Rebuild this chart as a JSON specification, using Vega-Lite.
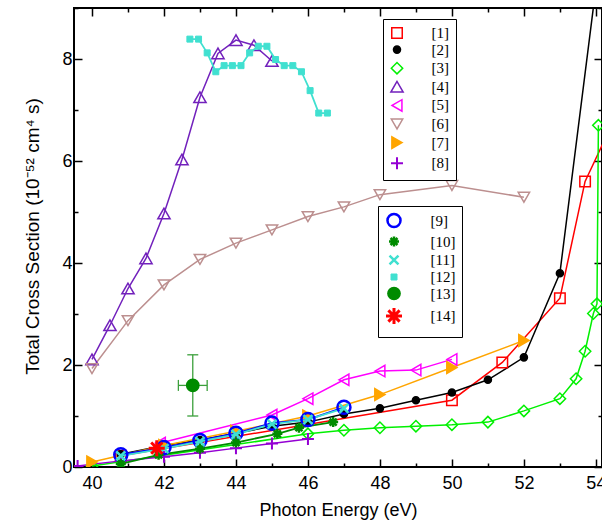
{
"$schema":"https://vega.github.io/schema/vega-lite/v6.json",
"width":528,"height":459,
"autosize":{"type":"none"},
"padding":{"left":74,"top":8,"right":0,"bottom":58},
"background":"white",
"config":{"view":{"stroke":"black","strokeWidth":2},"font":"Liberation Sans"},
"data":{"values":[
{"s":"[1]","x":40.8,"y":0.22},{"s":"[1]","x":50,"y":1.31},{"s":"[1]","x":51.4,"y":2.05},{"s":"[1]","x":53,"y":3.31},{"s":"[1]","x":53.7,"y":5.6},{"s":"[1]","x":54.5,"y":6.8},
{"s":"[2]","x":40.8,"y":0.25},{"s":"[2]","x":42,"y":0.42},{"s":"[2]","x":43,"y":0.53},{"s":"[2]","x":44,"y":0.66},{"s":"[2]","x":45,"y":0.8},{"s":"[2]","x":46,"y":0.88},{"s":"[2]","x":47,"y":1.04},{"s":"[2]","x":48,"y":1.15},{"s":"[2]","x":49,"y":1.31},{"s":"[2]","x":50,"y":1.46},{"s":"[2]","x":51,"y":1.71},{"s":"[2]","x":52,"y":2.15},{"s":"[2]","x":53,"y":3.8},{"s":"[2]","x":54,"y":9.4},
{"s":"[3]","x":40,"y":0.02},{"s":"[3]","x":46,"y":0.65},{"s":"[3]","x":47,"y":0.72},{"s":"[3]","x":48,"y":0.77},{"s":"[3]","x":49,"y":0.8},{"s":"[3]","x":50,"y":0.83},{"s":"[3]","x":51,"y":0.88},{"s":"[3]","x":52,"y":1.1},{"s":"[3]","x":53,"y":1.34},{"s":"[3]","x":53.45,"y":1.73},{"s":"[3]","x":53.7,"y":2.27},{"s":"[3]","x":53.93,"y":3.01},{"s":"[3]","x":54.03,"y":3.2},{"s":"[3]","x":54.07,"y":6.7},
{"s":"[4]","x":40,"y":2.11},{"s":"[4]","x":40.5,"y":2.78},{"s":"[4]","x":41,"y":3.5},{"s":"[4]","x":41.5,"y":4.09},{"s":"[4]","x":42,"y":4.97},{"s":"[4]","x":42.5,"y":6.03},{"s":"[4]","x":43,"y":7.25},{"s":"[4]","x":43.5,"y":8.11},{"s":"[4]","x":44,"y":8.37},{"s":"[4]","x":44.5,"y":8.27},{"s":"[4]","x":45,"y":7.96},
{"s":"[5]","x":41.9,"y":0.47},{"s":"[5]","x":45,"y":1.02},{"s":"[5]","x":46,"y":1.34},{"s":"[5]","x":47,"y":1.71},{"s":"[5]","x":48,"y":1.88},{"s":"[5]","x":49,"y":1.9},{"s":"[5]","x":50,"y":2.11},
{"s":"[6]","x":40,"y":1.93},{"s":"[6]","x":41,"y":2.87},{"s":"[6]","x":42,"y":3.57},{"s":"[6]","x":43,"y":4.07},{"s":"[6]","x":44,"y":4.39},{"s":"[6]","x":45,"y":4.65},{"s":"[6]","x":46,"y":4.91},{"s":"[6]","x":47,"y":5.1},{"s":"[6]","x":48,"y":5.34},{"s":"[6]","x":50,"y":5.52},{"s":"[6]","x":52,"y":5.29},
{"s":"[7]","x":40,"y":0.1},{"s":"[7]","x":42,"y":0.42},{"s":"[7]","x":44,"y":0.7},{"s":"[7]","x":46,"y":1.0},{"s":"[7]","x":48,"y":1.42},{"s":"[7]","x":50,"y":1.95},{"s":"[7]","x":52,"y":2.48},
{"s":"[8]","x":39.6,"y":0.02},{"s":"[8]","x":40.8,"y":0.12},{"s":"[8]","x":42,"y":0.2},{"s":"[8]","x":43,"y":0.28},{"s":"[8]","x":44,"y":0.37},{"s":"[8]","x":45,"y":0.46},{"s":"[8]","x":46,"y":0.55},
{"s":"[9]","x":40.8,"y":0.24},{"s":"[9]","x":42,"y":0.38},{"s":"[9]","x":43,"y":0.52},{"s":"[9]","x":44,"y":0.66},{"s":"[9]","x":45,"y":0.86},{"s":"[9]","x":46,"y":0.93},{"s":"[9]","x":47,"y":1.17},
{"s":"[10]","x":40.8,"y":0.06},{"s":"[10]","x":41.85,"y":0.24},{"s":"[10]","x":43,"y":0.36},{"s":"[10]","x":44,"y":0.48},{"s":"[10]","x":45.15,"y":0.65},{"s":"[10]","x":45.75,"y":0.77},{"s":"[10]","x":46.7,"y":0.88},
{"s":"[11]","x":40.8,"y":0.22},{"s":"[11]","x":42,"y":0.36},{"s":"[11]","x":43,"y":0.5},{"s":"[11]","x":44,"y":0.64},{"s":"[11]","x":45,"y":0.84},{"s":"[11]","x":46,"y":0.93},{"s":"[11]","x":47,"y":1.15},
{"s":"[12]","x":42.72,"y":8.39},{"s":"[12]","x":42.96,"y":8.39},{"s":"[12]","x":43.2,"y":8.12},{"s":"[12]","x":43.44,"y":7.75},{"s":"[12]","x":43.67,"y":7.87},{"s":"[12]","x":43.9,"y":7.87},{"s":"[12]","x":44.14,"y":7.87},{"s":"[12]","x":44.38,"y":8.12},{"s":"[12]","x":44.62,"y":8.25},{"s":"[12]","x":44.86,"y":8.25},{"s":"[12]","x":45.1,"y":7.99},{"s":"[12]","x":45.34,"y":7.87},{"s":"[12]","x":45.58,"y":7.87},{"s":"[12]","x":45.82,"y":7.75},{"s":"[12]","x":46.06,"y":7.38},{"s":"[12]","x":46.3,"y":6.94},{"s":"[12]","x":46.54,"y":6.94},
{"s":"[13]","x":42.8,"y":1.6,"xlo":42.4,"xhi":43.2,"ylo":1.0,"yhi":2.2},
{"s":"[14]","x":41.8,"y":0.37}
]},
"layer":[
{"mark":{"type":"point","opacity":0},
 "encoding":{
  "x":{"field":"x","type":"quantitative","scale":{"domain":[39.5,54.17],"nice":false,"zero":false},
   "axis":{"orient":"bottom","values":[40,41,42,43,44,45,46,47,48,49,50,51,52,53,54],"labelExpr":"datum.value % 2 === 0 ? datum.label : ''","domain":false,"grid":false,"tickColor":"black","tickWidth":1.5,"tickSize":{"condition":{"test":"datum.value % 2 === 0","value":-8},"value":-4},"labelPadding":15,"labelFont":"Liberation Sans","labelFontSize":18,"labelColor":"black","labelFlush":false,"labelOverlap":false,"labelBound":false,"title":"Photon Energy (eV)","titleFont":"Liberation Sans","titleFontSize":18,"titleFontWeight":"normal","titleColor":"black","titlePadding":5}},
  "y":{"field":"y","type":"quantitative","scale":{"domain":[0,9],"nice":false,"zero":false},
   "axis":{"orient":"left","values":[0,1,2,3,4,5,6,7,8,9],"labelExpr":"datum.value % 2 === 0 ? datum.label : ''","domain":false,"grid":false,"tickColor":"black","tickWidth":1.5,"tickSize":{"condition":{"test":"datum.value % 2 === 0","value":-8},"value":-4},"labelPadding":10,"labelFont":"Liberation Sans","labelFontSize":18,"labelColor":"black","labelFlush":false,"labelOverlap":false,"labelBound":false,"title":"Total Cross Section (10⁻⁵² cm⁴ s)","titleFont":"Liberation Sans","titleFontSize":19,"titleFontWeight":"normal","titleColor":"black","titleX":-36,"titleY":228,"titleAngle":-90,"titleAlign":"center","titleBaseline":"alphabetic"}}
 }},
{"mark":{"type":"point","opacity":0},
 "encoding":{
  "x":{"field":"x","type":"quantitative","scale":{"domain":[39.5,54.17],"nice":false,"zero":false},
   "axis":{"orient":"top","values":[40,41,42,43,44,45,46,47,48,49,50,51,52,53,54],"labels":false,"domain":false,"grid":false,"tickColor":"black","tickWidth":1.5,"tickSize":{"condition":{"test":"datum.value % 2 === 0","value":-8},"value":-4},"title":null}},
  "y":{"field":"y","type":"quantitative","scale":{"domain":[0,9],"nice":false,"zero":false},
   "axis":{"orient":"right","values":[0,1,2,3,4,5,6,7,8,9],"labels":false,"domain":false,"grid":false,"tickColor":"black","tickWidth":1.5,"tickSize":{"condition":{"test":"datum.value % 2 === 0","value":-8},"value":-4},"title":null}}
 }},
{"transform":[{"filter":{"field":"s","oneOf":["[1]","[2]","[3]","[4]","[5]","[6]","[7]","[8]"]}}],
 "layer":[
  {"mark":{"type":"line","clip":true,"strokeWidth":1.5},
   "encoding":{
    "x":{"field":"x","type":"quantitative","scale":{"domain":[39.5,54.17],"nice":false,"zero":false},"axis":null},
    "y":{"field":"y","type":"quantitative","scale":{"domain":[0,9],"nice":false,"zero":false},"axis":null},
    "stroke":{"field":"s","type":"nominal","scale":{"domain":["[1]","[2]","[3]","[4]","[5]","[6]","[7]","[8]"],"range":["#FF0000","#000000","#00F000","#7221BC","#FF00FF","#BC8F8F","#FFA500","#9400D3"]},
     "legend":{"title":null,"orient":"none","legendX":309,"legendY":11,"padding":6.5,"strokeColor":"black","fillColor":"white","cornerRadius":0,"labelFont":"Liberation Serif","labelFontSize":15,"labelColor":"black","labelOffset":27,"rowPadding":0.6}}
   }},
  {"mark":{"type":"point","clip":true,"opacity":1},
   "encoding":{
    "x":{"field":"x","type":"quantitative","scale":{"domain":[39.5,54.17],"nice":false,"zero":false},"axis":null},
    "y":{"field":"y","type":"quantitative","scale":{"domain":[0,9],"nice":false,"zero":false},"axis":null},
    "stroke":{"field":"s","type":"nominal","scale":{"domain":["[1]","[2]","[3]","[4]","[5]","[6]","[7]","[8]"],"range":["#FF0000","#000000","#00F000","#7221BC","#FF00FF","#BC8F8F","#FFA500","#9400D3"]},
     "legend":{"title":null,"orient":"none","legendX":309,"legendY":11,"padding":6.5,"strokeColor":"black","fillColor":"white","cornerRadius":0,"labelFont":"Liberation Serif","labelFontSize":15,"labelColor":"black","labelOffset":27,"rowPadding":0.6}},
    "fill":{"field":"s","type":"nominal","scale":{"domain":["[1]","[2]","[3]","[4]","[5]","[6]","[7]","[8]"],"range":["transparent","#000000","transparent","transparent","transparent","transparent","#FFA500","transparent"]},"legend":null},
    "shape":{"field":"s","type":"nominal","scale":{"domain":["[1]","[2]","[3]","[4]","[5]","[6]","[7]","[8]"],"range":["square","circle","diamond","triangle-up","triangle-left","triangle-down","triangle-right","M-1,0H1M0,-1V1"]},"legend":null},
    "size":{"field":"s","type":"nominal","scale":{"type":"ordinal","domain":["[1]","[2]","[3]","[4]","[5]","[6]","[7]","[8]"],"range":[110,50,130,150,130,130,140,144]},"legend":null},
    "strokeWidth":{"field":"s","type":"nominal","scale":{"type":"ordinal","domain":["[1]","[2]","[3]","[4]","[5]","[6]","[7]","[8]"],"range":[1.5,1.5,1.5,1.5,1.5,1.5,1.5,2]},"legend":null}
   }}
 ]},
{"transform":[{"filter":{"field":"s","oneOf":["[9]","[10]","[11]","[12]","[13]","[14]"]}}],
 "layer":[
  {"mark":{"type":"line","clip":true,"strokeWidth":1.8},
   "encoding":{
    "x":{"field":"x","type":"quantitative","scale":{"domain":[39.5,54.17],"nice":false,"zero":false},"axis":null},
    "y":{"field":"y","type":"quantitative","scale":{"domain":[0,9],"nice":false,"zero":false},"axis":null},
    "stroke":{"field":"s","type":"nominal","scale":{"domain":["[9]","[10]","[11]","[12]","[13]","[14]"],"range":["#0000FF","#008B00","#40E0D0","#40E0D0","#008B00","#FF0000"]},
     "legend":{"title":null,"orient":"none","legendX":304,"legendY":198,"padding":6.5,"strokeColor":"black","fillColor":"white","cornerRadius":0,"labelFont":"Liberation Serif","labelFontSize":15,"labelColor":"black","labelOffset":27,"rowPadding":-1.5}}
   }},
  {"transform":[{"filter":"datum.s==='[13]'"}],
   "mark":{"type":"rule","color":"#3CA03C","strokeWidth":1.3},
   "encoding":{
    "x":{"field":"xlo","type":"quantitative","scale":{"domain":[39.5,54.17],"nice":false,"zero":false},"axis":null},
    "x2":{"field":"xhi"},
    "y":{"field":"y","type":"quantitative","scale":{"domain":[0,9],"nice":false,"zero":false},"axis":null}}},
  {"transform":[{"filter":"datum.s==='[13]'"}],
   "mark":{"type":"rule","color":"#3CA03C","strokeWidth":1.3},
   "encoding":{
    "x":{"field":"x","type":"quantitative","scale":{"domain":[39.5,54.17],"nice":false,"zero":false},"axis":null},
    "y":{"field":"ylo","type":"quantitative","scale":{"domain":[0,9],"nice":false,"zero":false},"axis":null},
    "y2":{"field":"yhi"}}},
  {"transform":[{"filter":"datum.s==='[13]'"},{"fold":["ylo","yhi"],"as":["k","v"]}],
   "mark":{"type":"tick","orient":"horizontal","color":"#3CA03C","size":11,"thickness":1.3,"opacity":1},
   "encoding":{
    "x":{"field":"x","type":"quantitative","scale":{"domain":[39.5,54.17],"nice":false,"zero":false},"axis":null},
    "y":{"field":"v","type":"quantitative","scale":{"domain":[0,9],"nice":false,"zero":false},"axis":null}}},
  {"transform":[{"filter":"datum.s==='[13]'"},{"fold":["xlo","xhi"],"as":["k","v"]}],
   "mark":{"type":"tick","orient":"vertical","color":"#3CA03C","size":11,"thickness":1.3,"opacity":1},
   "encoding":{
    "x":{"field":"v","type":"quantitative","scale":{"domain":[39.5,54.17],"nice":false,"zero":false},"axis":null},
    "y":{"field":"y","type":"quantitative","scale":{"domain":[0,9],"nice":false,"zero":false},"axis":null}}},
  {"mark":{"type":"point","clip":true,"opacity":1},
   "encoding":{
    "x":{"field":"x","type":"quantitative","scale":{"domain":[39.5,54.17],"nice":false,"zero":false},"axis":null},
    "y":{"field":"y","type":"quantitative","scale":{"domain":[0,9],"nice":false,"zero":false},"axis":null},
    "stroke":{"field":"s","type":"nominal","scale":{"domain":["[9]","[10]","[11]","[12]","[13]","[14]"],"range":["#0000FF","#008B00","#40E0D0","#40E0D0","#008B00","#FF0000"]},
     "legend":{"title":null,"orient":"none","legendX":304,"legendY":198,"padding":6.5,"strokeColor":"black","fillColor":"white","cornerRadius":0,"labelFont":"Liberation Serif","labelFontSize":15,"labelColor":"black","labelOffset":27,"rowPadding":-1.5}},
    "fill":{"field":"s","type":"nominal","scale":{"domain":["[9]","[10]","[11]","[12]","[13]","[14]"],"range":["transparent","transparent","transparent","#40E0D0","#008B00","transparent"]},"legend":null},
    "shape":{"field":"s","type":"nominal","scale":{"domain":["[9]","[10]","[11]","[12]","[13]","[14]"],"range":["circle","M-1,0H1M0,-1V1M-0.7,-0.7L0.7,0.7M-0.7,0.7L0.7,-0.7","M-1,-1L1,1M-1,1L1,-1","square","circle","M-1,0H1M0,-1V1M-0.7,-0.7L0.7,0.7M-0.7,0.7L0.7,-0.7"]},"legend":null},
    "size":{"field":"s","type":"nominal","scale":{"type":"ordinal","domain":["[9]","[10]","[11]","[12]","[13]","[14]"],"range":[170,100,80,36,150,256]},"legend":null},
    "strokeWidth":{"field":"s","type":"nominal","scale":{"type":"ordinal","domain":["[9]","[10]","[11]","[12]","[13]","[14]"],"range":[2.5,2.5,2.5,1,1.5,3]},"legend":null}
   }}
 ]}
],
"resolve":{"scale":{"stroke":"independent","fill":"independent","shape":"independent","size":"independent","strokeWidth":"independent"},"axis":{"x":"independent","y":"independent"}}
}
